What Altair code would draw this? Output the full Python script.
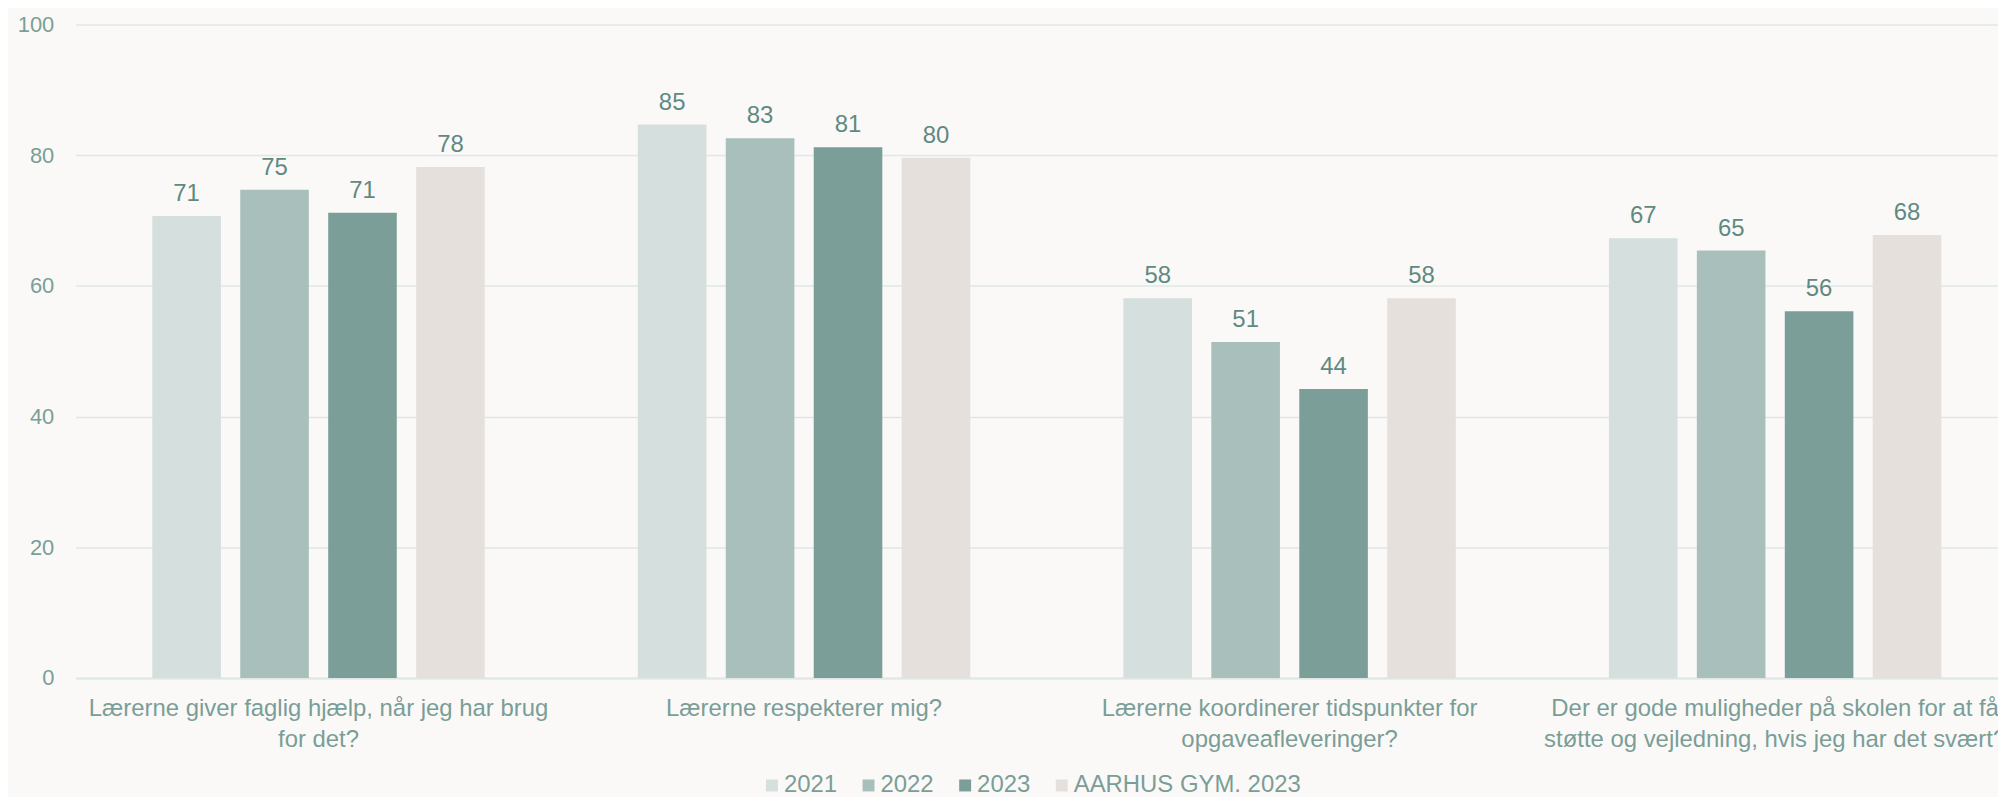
import altair as alt
import pandas as pd

categories = [
    "Lærerne giver faglig hjælp, når jeg har brug\nfor det?",
    "Lærerne respekterer mig?",
    "Lærerne koordinerer tidspunkter for\nopgaveafleveringer?",
    "Der er gode muligheder på skolen for at få\nstøtte og vejledning, hvis jeg har det svært?",
]
series = ["2021", "2022", "2023", "AARHUS GYM. 2023"]
values_2021 = [70.7, 84.7, 58.1, 67.3]
values_2022 = [74.7, 82.6, 51.4, 65.4]
values_2023 = [71.2, 81.2, 44.2, 56.1]
values_aarhus = [78.2, 79.6, 58.1, 67.8]
colors = ["#d5dfde", "#a8bfbb", "#7b9f98", "#e5e0dc"]

rows = []
for s, vals in zip(series, [values_2021, values_2022, values_2023, values_aarhus]):
    for c, v in zip(categories, vals):
        rows.append({"cat": c, "series": s, "value": v})
df = pd.DataFrame(rows)

FONT = "Liberation Sans"
AXIS_COLOR = "#7a9e97"
LABEL_COLOR = "#5f8a82"

x = alt.X(
    "cat:N",
    sort=categories,
    scale=alt.Scale(paddingInner=0.2755, paddingOuter=0.1378, range=[0, 1950]),
    axis=alt.Axis(
        title=None,
        labelAngle=0,
        labelLimit=0,
        labelExpr="split(datum.label, '\\n')",
        labelFontSize=24,
        labelFont=FONT,
        labelColor=AXIS_COLOR,
        labelLineHeight=31,
        labelPadding=19,
        ticks=False,
        domain=True,
        domainColor="#dfe7e5",
        domainWidth=2,
        grid=False,
    ),
)
xo = alt.XOffset(
    "series:N",
    sort=series,
    scale=alt.Scale(paddingInner=0.22, paddingOuter=0.11),
)
y = alt.Y(
    "value:Q",
    scale=alt.Scale(domain=[0, 100], nice=False),
    axis=alt.Axis(
        title=None,
        values=[0, 20, 40, 60, 80, 100],
        labelFontSize=22,
        labelFont=FONT,
        labelColor=AXIS_COLOR,
        labelPadding=22,
        ticks=False,
        domain=False,
        gridColor="#dfe7e5",
        gridWidth=1.5,
    ),
)
color = alt.Color(
    "series:N",
    sort=series,
    scale=alt.Scale(domain=series, range=colors),
    legend=alt.Legend(
        title=None,
        orient="none",
        legendX=687,
        legendY=752,
        direction="horizontal",
        columns=4,
        symbolType="square",
        symbolSize=144,
        symbolStrokeWidth=0,
        labelFontSize=24,
        labelFont=FONT,
        labelColor=AXIS_COLOR,
        labelLimit=0,
        labelOffset=0,
        columnPadding=19,
    ),
)

bars = alt.Chart(df).mark_bar().encode(x=x, xOffset=xo, y=y, color=color)
labels = alt.Chart(df).mark_text(
    dy=-15, baseline="alphabetic", fontSize=24, font=FONT, color=LABEL_COLOR
).encode(x=x, xOffset=xo, y="value:Q", text=alt.Text("value:Q", format=".0f"))

chart = (
    alt.layer(bars, labels)
    .properties(
        width=1930,
        height=656,
        background="#faf9f7",
        padding={"left": 68, "top": 15, "right": 0, "bottom": 118},
        autosize=alt.AutoSizeParams(type="none"),
    )
    .configure_view(stroke=None)
)

chart.save("out.html", embed_options={"renderer": "svg", "actions": False})
